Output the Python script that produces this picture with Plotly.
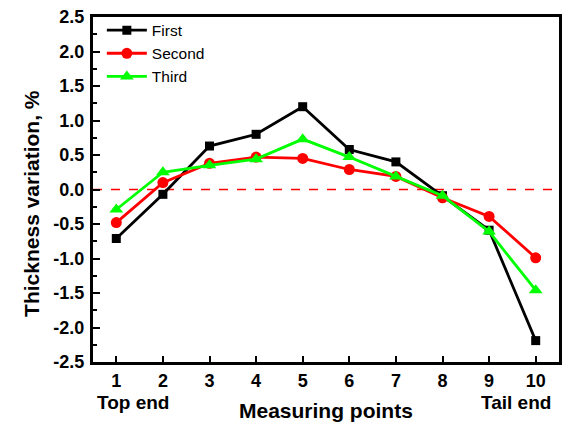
import plotly.graph_objects as go

points = [1, 2, 3, 4, 5, 6, 7, 8, 9, 10]
first = [-0.71, -0.07, 0.63, 0.80, 1.20, 0.58, 0.40, -0.09, -0.59, -2.19]
second = [-0.48, 0.10, 0.38, 0.47, 0.45, 0.29, 0.19, -0.12, -0.39, -0.99]
third = [-0.29, 0.25, 0.35, 0.44, 0.73, 0.47, 0.19, -0.09, -0.61, -1.46]
y_ticks = [-2.5, -2.0, -1.5, -1.0, -0.5, 0.0, 0.5, 1.0, 1.5, 2.0, 2.5]

FONT = "Liberation Sans"

fig = go.Figure()
fig.add_trace(go.Scatter(x=points, y=first, name="First", mode="lines+markers",
                         line=dict(color="black", width=2.8),
                         marker=dict(symbol="square", size=9, color="black")))
fig.add_trace(go.Scatter(x=points, y=second, name="Second", mode="lines+markers",
                         line=dict(color="#ff0000", width=2.8),
                         marker=dict(symbol="circle", size=11, color="#ff0000")))
fig.add_trace(go.Scatter(x=points, y=third, name="Third", mode="lines+markers",
                         line=dict(color="#00ff00", width=2.8),
                         marker=dict(symbol="triangle-up", size=12, color="#00ff00")))

fig.add_shape(type="line", xref="paper", yref="y", x0=0, x1=1, y0=0, y1=0,
              line=dict(color="#ff0000", width=1.5, dash="dash"), layer="below")

# page body has an 8px margin, so the figure is 8px smaller and margins are offset
fig.update_layout(
    width=578, height=425,
    margin=dict(l=85, r=27, t=9, b=71, autoexpand=False),
    plot_bgcolor="white", paper_bgcolor="white",
    font=dict(family=FONT, color="black"),
    showlegend=True,
    legend=dict(x=0.019, y=1.01, xanchor="left", yanchor="top",
                bgcolor="rgba(0,0,0,0)", font=dict(size=15.5, family=FONT),
                tracegroupgap=0, itemwidth=40),
    xaxis=dict(range=[0.5, 10.5], tickvals=points, ticktext=[str(p) for p in points],
               automargin=False, ticklabeloverflow="allow",
               showline=True, linewidth=3, linecolor="black", mirror=True,
               ticks="inside", ticklen=6, tickwidth=2, tickcolor="black",
               showgrid=False, zeroline=False,
               tickfont=dict(size=18, family=FONT, weight="bold")),
    yaxis=dict(range=[-2.5, 2.5], tickvals=y_ticks, ticktext=[f"{v:.1f}" for v in y_ticks],
               automargin=False, ticklabelstandoff=2, ticklabeloverflow="allow",
               showline=True, linewidth=3, linecolor="black", mirror=True,
               ticks="inside", ticklen=7, tickwidth=2, tickcolor="black",
               minor=dict(dtick=0.25, ticks="inside", ticklen=4, tickwidth=2, tickcolor="black"),
               showgrid=False, zeroline=False,
               tickfont=dict(size=18, family=FONT, weight="bold")),
)

fig.add_annotation(text="Thickness variation, %", xref="paper", yref="paper",
                   x=-0.131, y=0.461, textangle=-90, showarrow=False,
                   xanchor="center", yanchor="middle",
                   font=dict(size=21, family=FONT, weight="bold"))
fig.add_annotation(text="Measuring points", xref="paper", yref="paper",
                   x=0.5, y=-0.142, showarrow=False, xanchor="center", yanchor="middle",
                   font=dict(size=21, family=FONT, weight="bold"))
fig.add_annotation(text="Top end", xref="paper", yref="paper",
                   x=0.004, y=-0.116, xanchor="left", showarrow=False, yanchor="middle",
                   font=dict(size=19, family=FONT, weight="bold"))
fig.add_annotation(text="Tail end", xref="paper", yref="paper",
                   x=0.987, y=-0.116, xanchor="right", showarrow=False, yanchor="middle",
                   font=dict(size=19, family=FONT, weight="bold"))

fig.write_html("out.html")
